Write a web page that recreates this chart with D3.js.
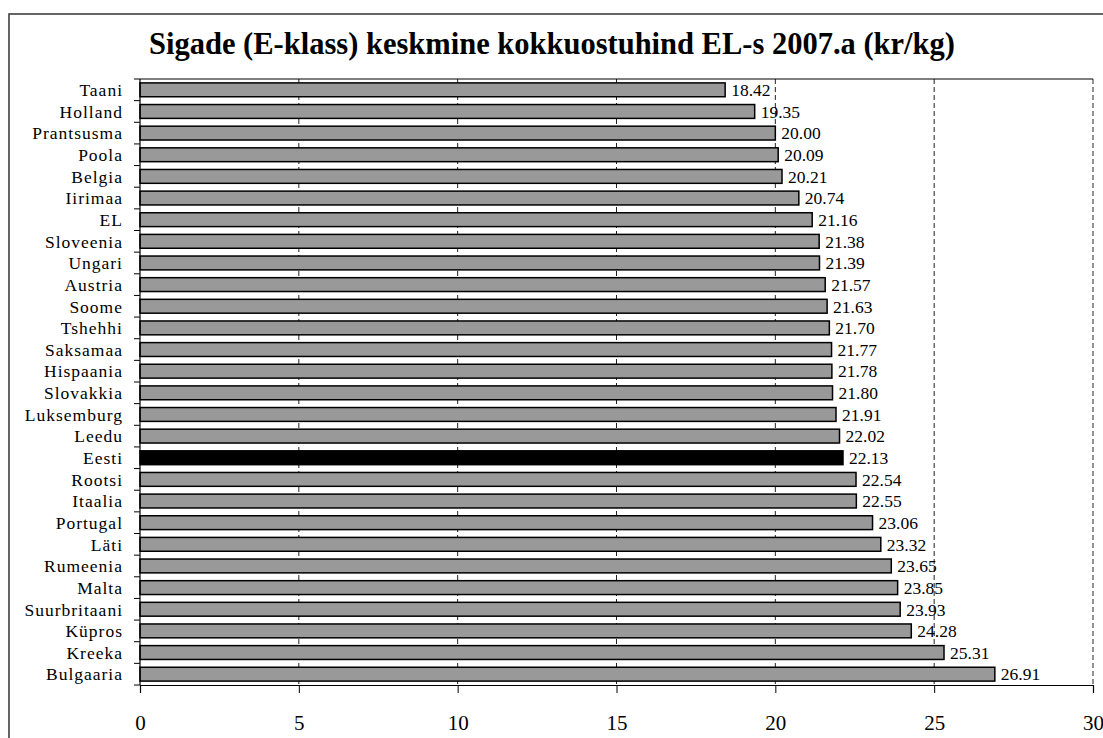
<!DOCTYPE html>
<html>
<head>
<meta charset="utf-8">
<script src="https://d3js.org/d3.v7.min.js"></script>
<style>
  body { margin: 0; background: #fff; }
  svg text { font-family: "Liberation Serif", "Times New Roman", serif; fill: #000; }
</style>
</head>
<body>
<svg id="chart" width="1103" height="738"></svg>
<script>
// data
var countries = ["Taani", "Holland", "Prantsusma", "Poola", "Belgia", "Iirimaa", "EL",
    "Sloveenia", "Ungari", "Austria", "Soome", "Tshehhi", "Saksamaa", "Hispaania",
    "Slovakkia", "Luksemburg", "Leedu", "Eesti", "Rootsi", "Itaalia", "Portugal",
    "Läti", "Rumeenia", "Malta", "Suurbritaani", "Küpros", "Kreeka", "Bulgaaria"];
var prices = [18.42, 19.35, 20.00, 20.09, 20.21, 20.74, 21.16, 21.38, 21.39, 21.57,
    21.63, 21.70, 21.77, 21.78, 21.80, 21.91, 22.02, 22.13, 22.54, 22.55, 23.06,
    23.32, 23.65, 23.85, 23.93, 24.28, 25.31, 26.91];
var highlight = "Eesti";
var xTicks = [0, 5, 10, 15, 20, 25, 30];
var title = "Sigade (E-klass) keskmine kokkuostuhind EL-s 2007.a (kr/kg)";

var svg = d3.select("#chart");
var margin = {left: 140, right: 10, top: 79, bottom: 53},
    W = 1103, H = 738;

var rows = countries.map(function(c, i) { return {name: c, value: prices[i]}; });

var x = d3.scaleLinear().domain([0, 30]).range([margin.left, 1093]);
var y = d3.scaleBand().domain(countries)
    .range([margin.top, H - margin.bottom]).paddingInner(0.36).paddingOuter(0.18);

// outer chart frame (runs off the right/bottom edge like the original)
svg.append("rect")
    .attr("x", 9).attr("y", 14)
    .attr("width", W + 10).attr("height", H + 10)
    .attr("fill", "none").attr("stroke", "#333").attr("stroke-width", 1.5);

svg.append("text")
    .attr("x", 552).attr("y", 54)
    .attr("text-anchor", "middle")
    .style("font-size", "30.5px").style("font-weight", "bold")
    .text(title);

// dashed gridlines (behind the bars)
svg.append("g").selectAll("line")
    .data(xTicks.slice(1))
  .enter().append("line")
    .attr("x1", function(d) { return x(d); })
    .attr("x2", function(d) { return x(d); })
    .attr("y1", margin.top).attr("y2", H - margin.bottom)
    .attr("stroke", "#222").attr("stroke-width", 1)
    .attr("stroke-dasharray", "5,3");

// top border of plot area
svg.append("line")
    .attr("x1", margin.left).attr("x2", x(30))
    .attr("y1", margin.top).attr("y2", margin.top)
    .attr("stroke", "#000").attr("stroke-width", 1.2);

// bars
svg.append("g").selectAll("rect")
    .data(rows)
  .enter().append("rect")
    .attr("x", x(0))
    .attr("y", function(d) { return y(d.name); })
    .attr("width", function(d) { return x(d.value) - x(0); })
    .attr("height", y.bandwidth())
    .attr("fill", function(d) { return d.name === highlight ? "#000" : "#999"; })
    .attr("stroke", "#000").attr("stroke-width", 1.5);

// value labels
svg.append("g").selectAll("text")
    .data(rows)
  .enter().append("text")
    .attr("x", function(d) { return x(d.value) + 6; })
    .attr("y", function(d) { return y(d.name) + y.bandwidth() / 2; })
    .attr("dy", "0.36em")
    .style("font-size", "17.5px")
    .text(function(d) { return d.value.toFixed(2); });

// x axis
var xAxis = svg.append("g")
    .attr("transform", "translate(0," + (H - margin.bottom) + ")")
    .call(d3.axisBottom(x).tickValues(xTicks).tickSize(8).tickPadding(22)
        .tickFormat(d3.format("d")));
xAxis.select(".domain").attr("stroke", "#000").attr("stroke-width", 1.2);
xAxis.selectAll(".tick line").attr("stroke", "#000");
xAxis.selectAll("text")
    .style("font-family", "'Liberation Serif', serif")
    .style("font-size", "21px").attr("fill", "#000");

// y axis: line, ticks between categories, labels
var step = y.step();
svg.append("line")
    .attr("x1", margin.left).attr("x2", margin.left)
    .attr("y1", margin.top).attr("y2", H - margin.bottom)
    .attr("stroke", "#000").attr("stroke-width", 1.2);
svg.append("g").selectAll("line")
    .data(d3.range(countries.length + 1))
  .enter().append("line")
    .attr("x1", margin.left - 6).attr("x2", margin.left)
    .attr("y1", function(i) { return margin.top + i * step; })
    .attr("y2", function(i) { return margin.top + i * step; })
    .attr("stroke", "#000");
svg.append("g").selectAll("text")
    .data(countries)
  .enter().append("text")
    .attr("x", 123)
    .attr("y", function(d) { return y(d) + y.bandwidth() / 2; })
    .attr("dy", "0.36em")
    .attr("text-anchor", "end")
    .style("font-size", "17.5px")
    .style("letter-spacing", "1px")
    .text(function(d) { return d; });
</script>
</body>
</html>
